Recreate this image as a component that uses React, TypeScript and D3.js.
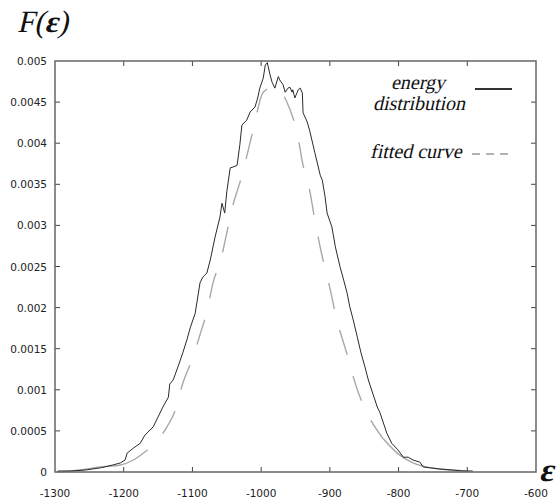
import { useEffect, useRef } from "react";
import * as d3 from "d3";

// energy distribution (histogram trace)
const energyX = [
  -1296, -1278, -1256, -1234, -1216, -1205, -1198, -1195, -1186, -1176,
  -1169, -1157, -1150, -1143, -1135, -1133, -1128, -1121, -1114, -1108,
  -1103, -1096, -1089, -1085, -1079, -1074, -1067, -1060, -1057, -1053,
  -1050, -1045, -1041, -1035, -1031, -1028, -1021, -1016, -1009, -1005,
  -1002, -997, -994, -991, -987, -984, -980, -975, -973, -968,
  -965, -961, -958, -955, -954, -951, -948, -946, -943, -940,
  -939, -933, -929, -922, -914, -911, -907, -904, -897, -892,
  -885, -881, -875, -871, -866, -860, -855, -849, -844, -831,
  -827, -817, -810, -801, -793, -786, -779, -769, -764, -754,
  -740, -721, -706, -692,
];
const energyY = [
  0.000012, 0.000012, 0.000024, 0.00005, 0.000085, 0.00011, 0.000146, 0.00023, 0.00029, 0.00035,
  0.00045, 0.00055, 0.00067, 0.00079, 0.00091, 0.00107, 0.00112, 0.00128, 0.00145, 0.00161,
  0.00176, 0.00193, 0.0023, 0.00237, 0.00242, 0.00258, 0.00286, 0.0031, 0.00327, 0.00315,
  0.00341, 0.0037, 0.00371, 0.00373, 0.00398, 0.00422, 0.00428, 0.00438, 0.00444, 0.00455,
  0.00467, 0.00479, 0.00495, 0.00498, 0.00483, 0.00474, 0.00467, 0.00481, 0.00477, 0.00471,
  0.00462, 0.00467, 0.00468, 0.00462, 0.00465, 0.00455, 0.00461, 0.00465, 0.00467, 0.00461,
  0.00437, 0.00426, 0.00414, 0.00389, 0.00361, 0.00355, 0.00335, 0.00315, 0.00298, 0.00274,
  0.00249, 0.00237, 0.00218, 0.00201, 0.00185, 0.00164, 0.00146, 0.00128, 0.00112, 0.00079,
  0.00072, 0.00047, 0.00035, 0.00027, 0.00018, 0.00018, 0.000146, 0.00012, 0.00006, 0.00005,
  0.000036, 0.000024, 0.000012, 0.000012,
];

// fitted curve
const fitX = [
  -1297, -1264, -1234, -1205, -1186, -1165, -1137, -1125, -1114, -1099,
  -1089, -1079, -1070, -1057, -1050, -1041, -1031, -1016, -1009, -999,
  -991, -983, -975, -968, -962, -955, -946, -940, -929, -922,
  -910, -900, -891, -876, -860, -846, -823, -802, -779, -740,
  -700,
];
const fitY = [
  0, 0.000024, 0.00006, 0.000085, 0.000146, 0.00027, 0.00055, 0.00075, 0.00108, 0.0014,
  0.00167, 0.00195, 0.0023, 0.00264, 0.00291, 0.00325, 0.00352, 0.00401, 0.00426, 0.00459,
  0.00466, 0.00468, 0.00466, 0.00459, 0.00449, 0.00434, 0.00406, 0.00377, 0.00341, 0.00307,
  0.00258, 0.00224, 0.00189, 0.00146, 0.001, 0.00072, 0.00041, 0.00023, 0.00011, 0.000036,
  0.000012,
];

const xTicks = [-1300, -1200, -1100, -1000, -900, -800, -700, -600];
const yTicks = [0, 0.0005, 0.001, 0.0015, 0.002, 0.0025, 0.003, 0.0035, 0.004, 0.0045, 0.005];
const yTickLabels = ["0", "0.0005", "0.001", "0.0015", "0.002", "0.0025", "0.003", "0.0035", "0.004", "0.0045", "0.005"];

export default function App() {
  const svgRef = useRef<SVGSVGElement>(null);

  useEffect(() => {
    const svg = d3.select(svgRef.current);
    svg.selectAll("*").remove();

    const W = 560;
    const H = 502;
    const left = 55, right = 536, top = 61, bottom = 472;

    svg.attr("width", W).attr("height", H);
    svg.append("rect").attr("width", W).attr("height", H).attr("fill", "#fff");

    const x = d3.scaleLinear().domain([-1300, -600]).range([left, right]);
    const y = d3.scaleLinear().domain([0, 0.005]).range([bottom, top]);

    const tickFont = "DejaVu Sans, sans-serif";

    // inward ticks on all four sides
    const tk = svg.append("g").attr("stroke", "#444").attr("stroke-width", 1);
    xTicks.slice(1, -1).forEach(v => {
      tk.append("line").attr("x1", x(v)).attr("x2", x(v)).attr("y1", bottom).attr("y2", bottom - 5);
      tk.append("line").attr("x1", x(v)).attr("x2", x(v)).attr("y1", top).attr("y2", top + 5);
    });
    yTicks.slice(1, -1).forEach(v => {
      tk.append("line").attr("x1", left).attr("x2", left + 5).attr("y1", y(v)).attr("y2", y(v));
      tk.append("line").attr("x1", right).attr("x2", right - 5).attr("y1", y(v)).attr("y2", y(v));
    });

    // tick labels
    svg.append("g")
      .selectAll("text")
      .data(xTicks)
      .enter()
      .append("text")
      .attr("x", d => x(d))
      .attr("y", 497)
      .attr("text-anchor", "middle")
      .attr("font-family", tickFont)
      .attr("font-size", 10.5)
      .attr("fill", "#222")
      .text(d => String(d));

    svg.append("g")
      .selectAll("text")
      .data(yTicks)
      .enter()
      .append("text")
      .attr("x", 47)
      .attr("y", d => y(d) + 4)
      .attr("text-anchor", "end")
      .attr("font-family", tickFont)
      .attr("font-size", 10.5)
      .attr("fill", "#222")
      .text((d, i) => yTickLabels[i]);

    // curves
    const energy = energyX.map((v, i) => [v, energyY[i]] as [number, number]);
    const fit = fitX.map((v, i) => [v, fitY[i]] as [number, number]);

    const lineLin = d3.line<[number, number]>().x(d => x(d[0])).y(d => y(d[1]));
    const lineSmooth = d3.line<[number, number]>()
      .x(d => x(d[0])).y(d => y(d[1]))
      .curve(d3.curveMonotoneX);

    // fitted curve: solid tails, long dashes in the middle
    const fitG = svg.append("g").attr("fill", "none").attr("stroke", "#a8a8a8").attr("stroke-width", 1.4);
    fitG.append("path").attr("d", lineSmooth(fit.slice(0, 6)));
    fitG.append("path").attr("d", lineSmooth(fit.slice(5, 37)))
      .attr("stroke-dasharray", "26 22")
      .attr("stroke-dashoffset", 26);
    fitG.append("path").attr("d", lineSmooth(fit.slice(36)));

    svg.append("path")
      .attr("d", lineLin(energy))
      .attr("fill", "none")
      .attr("stroke", "#2a2a2a")
      .attr("stroke-width", 1);

    // frame
    svg.append("rect")
      .attr("x", left).attr("y", top)
      .attr("width", right - left).attr("height", bottom - top)
      .attr("fill", "none")
      .attr("stroke", "#666")
      .attr("stroke-width", 1.5);

    // serif text slanted by hand (upright Liberation Serif + skew)
    const serif = "Liberation Serif, Times New Roman, serif";
    const slanted = (tx: number, ty: number, size: number, anchor: string) =>
      svg.append("text")
        .attr("transform", `translate(${tx},${ty}) skewX(-13)`)
        .attr("text-anchor", anchor)
        .style("font-family", serif)
        .style("font-style", "normal")
        .attr("font-size", size)
        .attr("fill", "#111");

    // legend
    slanted(418, 89, 20, "middle").text("energy");
    slanted(419, 110, 20, "middle").text("distribution");
    slanted(370, 158, 20, "start").text("fitted curve");
    svg.append("line")
      .attr("x1", 475).attr("x2", 512).attr("y1", 89).attr("y2", 89)
      .attr("stroke", "#333").attr("stroke-width", 2);
    svg.append("line")
      .attr("x1", 472).attr("x2", 512).attr("y1", 154).attr("y2", 154)
      .attr("stroke", "#999").attr("stroke-width", 1.6)
      .attr("stroke-dasharray", "8 6");

    // axis titles
    const title = slanted(17, 32, 31, "start");
    title.append("tspan").text("F(");
    title.append("tspan").attr("font-weight", "bold").text("ε");
    title.append("tspan").text(")");

    slanted(539, 481, 33, "start").attr("font-weight", "bold").text("ε");
  }, []);

  return <svg ref={svgRef} style={{ position: "absolute", left: 0, top: 0 }} />;
}
